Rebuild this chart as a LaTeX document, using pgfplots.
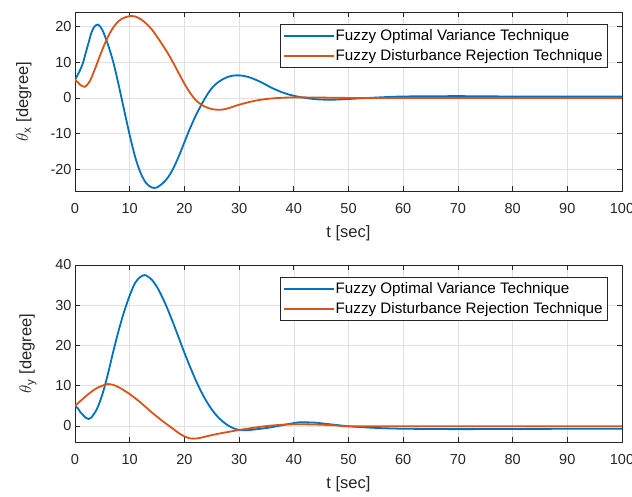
\documentclass[border=0pt]{standalone}
\usepackage{pgfplots}
\pgfplotsset{compat=1.18}
\usepackage{fontspec}
\setmainfont{Liberation Sans}

\definecolor{mblue}{rgb}{0,0.447,0.741}
\definecolor{morange}{rgb}{0.85,0.325,0.098}
\definecolor{maxis}{rgb}{0.15,0.15,0.15}

\pgfplotsset{
  mstyle/.style={
    scale only axis, width=547pt,
    xmin=0, xmax=100, xtick={0,10,...,100},
    grid=major, major grid style={black!12, line width=0.6pt},
    axis line style={maxis, line width=0.7pt},
    tick style={maxis, line width=0.7pt}, major tick length=5pt,
    tick align=inside, xtick pos=both, ytick pos=both,
    tick label style={font=\fontsize{14.5}{16}\selectfont, text=maxis},
    label style={font=\fontsize{16.5}{18}\selectfont, text=maxis},
    xticklabel shift={9pt}, xlabel shift={5pt}, ylabel shift={12pt},
    /pgf/number format/assume math mode=true,
    xlabel={t [sec]},
    legend cell align=left,
    legend style={at={(1,1)}, anchor=north east, xshift=-14pt, yshift=-12pt,
      draw=maxis, line width=0.7pt, font=\fontsize{15.2}{17}\selectfont,
      inner xsep=3pt, inner ysep=3.3pt, row sep=3.2pt},
    legend image code/.code={\fill[#1, draw=none] (0pt,-1.1pt) rectangle (50pt,1.1pt);},
  },
  mline/.style={line width=1.8pt, smooth, tension=0.5},
}

\begin{document}
\begin{tikzpicture}
\path[use as bounding box] (0,0) rectangle (632pt,496pt);

\begin{axis}[mstyle, at={(75pt,305pt)}, anchor=south west, height=179pt,
  ymin=-26, ymax=24, ytick={-20,-10,0,10,20},
  ylabel={$\theta$\textsubscript{x} [degree]}]
\addplot[mblue, mline] coordinates {
 (0,5)(1,8)(1.5,10)(2,12.8)(2.5,15.5)(3,18.2)(3.5,19.8)(4.2,20.5)(5,19)
 (6,15)(7,10)(8,3.5)(8.5,0)(9,-3.5)(10,-10.4)(11,-16.5)(12,-21)(13,-23.8)
 (14,-25)(14.5,-25.15)(15,-25)(16,-23.9)(17,-22.2)(18,-19.6)(19,-16.2)
 (20,-12.4)(21,-8.6)(22,-5.2)(23,-2.2)(24,0.5)(25,2.7)(26,4.2)(27,5.2)
 (28,5.9)(29,6.25)(30,6.3)(31,6.1)(32,5.7)(33,5.1)(34,4.4)(35,3.6)(36,2.8)
 (37,2.1)(38,1.5)(39,1.0)(40,0.6)(42,0.0)(44,-0.35)(46,-0.5)(48,-0.45)
 (50,-0.3)(55,0.1)(60,0.4)(70,0.5)(80,0.4)(90,0.4)(100,0.4)};
\addlegendentry{Fuzzy Optimal Variance Technique}
\addplot[morange, mline] coordinates {
 (0,5)(0.5,4.4)(1,3.6)(1.8,3.1)(2.5,4.2)(3,5.6)(4,9.5)(5,13.5)(6,17)(7,19.7)
 (8,21.5)(9,22.4)(10,22.85)(11,22.75)(12,22)(13,20.8)(14,19.2)
 (15,17.1)(16,14.8)(17,12.4)(18,9.7)(19,6.8)(20,4)(21,1.5)(22,-0.5)
 (23,-1.8)(24,-2.6)(25,-3.1)(26,-3.3)(27,-3.25)(28,-2.9)(29,-2.4)(30,-1.9)
 (32,-1.1)(34,-0.5)(36,-0.15)(38,0.05)(40,0.15)(42,0.15)(45,0.1)(50,0)
 (60,0)(100,0)};
\addlegendentry{Fuzzy Disturbance Rejection Technique}
\end{axis}

\begin{axis}[mstyle, at={(75pt,54pt)}, anchor=south west, height=177pt,
  ymin=-4, ymax=40, ytick={0,10,20,30,40},
  ylabel={$\theta$\textsubscript{y} [degree]}]
\addplot[mblue, mline] coordinates {
 (0,5)(0.5,4.4)(1,3.4)(2,2)(2.5,1.7)(3,2.1)(4,4.2)(5,7.8)(6,12.8)(7,18.5)
 (8,23.8)(9,28.5)(10,32.4)(11,35.6)(12,37.1)(12.7,37.5)(13,37.4)(14,36.4)
 (15,34.5)(16,31.9)(17,28.8)(18,25.4)(19,21.8)(20,18.2)(21,14.8)(22,11.6)
 (23,8.7)(24,6.2)(25,4.1)(26,2.4)(27,1.1)(28,0.1)(29,-0.6)(30,-1.0)
 (31,-1.1)(32,-1.0)(34,-0.7)(36,-0.3)(38,0.2)(40,0.7)(41,0.9)(42,0.9)
 (44,0.8)(46,0.5)(48,0.2)(50,-0.1)(55,-0.5)(60,-0.7)(70,-0.8)(80,-0.75)
 (100,-0.7)};
\addlegendentry{Fuzzy Optimal Variance Technique}
\addplot[morange, mline] coordinates {
 (0,5)(1,6.2)(2,7.4)(3,8.5)(4,9.4)(5,10)(6,10.4)(7,10.2)(8,9.6)(9,8.8)
 (10,7.9)(11,6.9)(12,5.8)(13,4.6)(14,3.4)(15,2.3)(16,1.2)(17,0.2)(18,-0.8)
 (19,-1.8)(20,-2.6)(21,-3.1)(22,-3.15)(23,-2.95)(24,-2.6)(26,-2)(28,-1.5)
 (30,-1)(32,-0.6)(34,-0.2)(36,0.1)(38,0.3)(40,0.4)(42,0.4)(45,0.3)(48,0.1)
 (50,-0.1)(60,-0.1)(100,-0.1)};
\addlegendentry{Fuzzy Disturbance Rejection Technique}
\end{axis}
\end{tikzpicture}
\end{document}
